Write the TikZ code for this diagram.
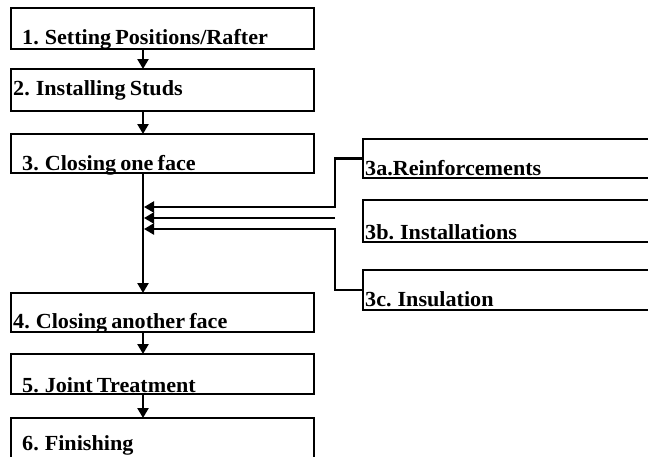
\documentclass[tikz,border=0pt]{standalone}
\usepackage{fontspec}
\setmainfont{Liberation Serif}[WordSpace=0.75]
\usetikzlibrary{arrows.meta,calc}
\tikzset{
  box/.style={draw=black, line width=2.3pt, fill=white, anchor=north west, inner sep=0pt, outer sep=0pt},
  lbl/.style={anchor=base west, inner sep=0pt, font=\bfseries\fontsize{21.5}{21.5}\selectfont, xscale=1.03, transform shape},
  arr/.style={line width=2.3pt, -{Triangle[length=10pt,width=11pt]}},
  conn/.style={line width=2.3pt}
}
\begin{document}
\begin{tikzpicture}[x=1pt,y=-1pt]
\useasboundingbox (0,0) rectangle (648,456);
\clip (0,0) rectangle (648,456);
% left column boxes
\node[box, minimum width=303pt, minimum height=41pt] (b1) at (11,8) {};
\node[box, minimum width=303pt, minimum height=42pt] (b2) at (11,69) {};
\node[box, minimum width=303pt, minimum height=39pt] (b3) at (11,134) {};
\node[box, minimum width=303pt, minimum height=39pt] (b4) at (11,293) {};
\node[box, minimum width=303pt, minimum height=40pt] (b5) at (11,354) {};
\node[box, minimum width=303pt, minimum height=60pt] (b6) at (11,418) {};
% right column boxes
\node[box, minimum width=300pt, minimum height=39pt] (b3a) at (363,139) {};
\node[box, minimum width=300pt, minimum height=42pt] (b3b) at (363,200) {};
\node[box, minimum width=300pt, minimum height=40pt] (b3c) at (363,270) {};
% labels
\node[lbl] (t1) at (22,44) {1. Setting Positions/Rafter};
\node[lbl] (t2) at (13,95) {2. Installing Studs};
\node[lbl] (t3) at (22,170) {3. Closing one face};
\node[lbl] (t4) at (13,328) {4. Closing another face};
\node[lbl] (t5) at (22,392) {5. Joint Treatment};
\node[lbl] (t6) at (22,450) {6. Finishing};
\node[lbl] (t3a) at (365,175) {3a.Reinforcements};
\node[lbl] (t3b) at (365,239) {3b. Installations};
\node[lbl] (t3c) at (365,306) {3c. Insulation};
% connectors
\coordinate (ax) at (143,0);
\coordinate (jx) at (335,0);
\coordinate (ta) at (144,207);
\coordinate (tb) at (144,218);
\coordinate (tc) at (144,229);
\coordinate (bfree) at (335,218);
\draw[arr] (b1.south -| ax) -- (b2.north -| ax);
\draw[arr] (b2.south -| ax) -- (b3.north -| ax);
\draw[arr] (b3.south -| ax) -- (b4.north -| ax);
\draw[arr] (b4.south -| ax) -- (b5.north -| ax);
\draw[arr] (b5.south -| ax) -- (b6.north -| ax);
\draw[arr] (b3a.west) -| (jx |- ta) -- (ta);
\draw[arr] (bfree) -- (tb);
\draw[arr] (b3c.west) -| (jx |- tc) -- (tc);
\end{tikzpicture}
\end{document}
